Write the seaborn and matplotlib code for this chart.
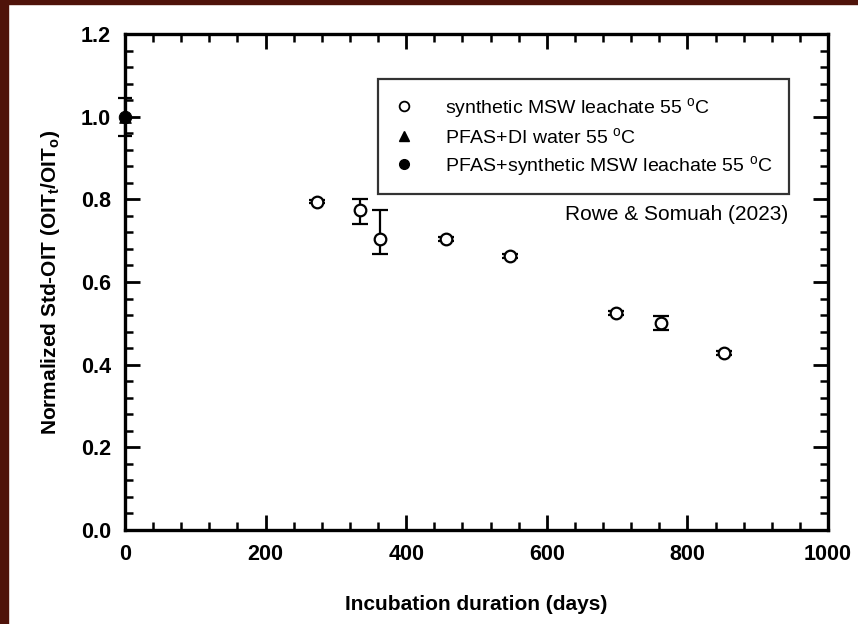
import matplotlib
matplotlib.use("Agg")
import matplotlib.pyplot as plt
from matplotlib.lines import Line2D
from matplotlib.patches import Rectangle
import seaborn as sns
import pandas as pd
import numpy as np

# ---- data ----
msw_days = [273, 334, 363, 456, 548, 698, 762, 852]
msw_oit = [0.794, 0.774, 0.705, 0.704, 0.663, 0.525, 0.501, 0.428]
msw_err_low = [0.004, 0.033, 0.038, 0.006, 0.004, 0.004, 0.016, 0.004]
msw_err_high = [0.004, 0.026, 0.069, 0.006, 0.004, 0.004, 0.016, 0.004]

di_days = [0]
di_oit = [1.0]

pfas_days = [0]
pfas_oit = [1.0]
pfas_err = [0.046]

labels = ["synthetic MSW leachate 55 $^\\mathregular{o}$C",
          "PFAS+DI water 55 $^\\mathregular{o}$C",
          "PFAS+synthetic MSW leachate 55 $^\\mathregular{o}$C"]

sns.set_theme(style="white")
plt.rcParams["font.family"] = ["Liberation Sans", "DejaVu Sans"]
plt.rcParams["mathtext.default"] = "regular"
for k in ["text.color", "axes.labelcolor", "xtick.color", "ytick.color"]:
    plt.rcParams[k] = "black"

W, H = 858, 624
fig = plt.figure(figsize=(W / 100, H / 100), dpi=100)
fig.patch.set_facecolor("white")
ax = fig.add_axes([125 / W, 1 - 530 / H, (828 - 125) / W, (530 - 34) / H])

# error bars
ax.errorbar(msw_days, msw_oit, yerr=[msw_err_low, msw_err_high], fmt="none",
            ecolor="black", elinewidth=1.6, capsize=6, capthick=1.6, zorder=2)
ax.errorbar(pfas_days, pfas_oit, yerr=pfas_err, fmt="none",
            ecolor="black", elinewidth=1.6, capsize=5, capthick=1.6, zorder=2,
            clip_on=False)

df_msw = pd.DataFrame({"days": msw_days, "oit": msw_oit})
df_di = pd.DataFrame({"days": di_days, "oit": di_oit})
df_pfas = pd.DataFrame({"days": pfas_days, "oit": pfas_oit})

sns.scatterplot(data=df_msw, x="days", y="oit", ax=ax, marker="o", s=70,
                facecolor="white", edgecolor="black", linewidth=1.6, zorder=3)
sns.scatterplot(data=df_di, x="days", y="oit", ax=ax, marker="^", s=70,
                color="black", edgecolor="black", zorder=3, clip_on=False)
sns.scatterplot(data=df_pfas, x="days", y="oit", ax=ax, marker="o", s=80,
                color="black", edgecolor="black", zorder=4, clip_on=False)

ax.set_xlim(0, 1000)
ax.set_ylim(0, 1.2)
ax.set_xticks([0, 200, 400, 600, 800, 1000])
ax.set_yticks([0.0, 0.2, 0.4, 0.6, 0.8, 1.0, 1.2])
ax.set_yticklabels(["0.0", "0.2", "0.4", "0.6", "0.8", "1.0", "1.2"])
ax.set_xticks(np.arange(0, 1001, 40), minor=True)
ax.set_yticks(np.arange(0, 1.2001, 0.04), minor=True)
ax.tick_params(which="both", direction="in", top=True, right=True,
               bottom=True, left=True, color="black")
ax.tick_params(which="major", length=11, width=2, labelsize=15.5, pad=10)
ax.tick_params(which="minor", length=5.5, width=1.8)
for lab in ax.get_xticklabels() + ax.get_yticklabels():
    lab.set_fontweight("bold")
for sp in ax.spines.values():
    sp.set_linewidth(2.4)
    sp.set_color("black")

ax.set_xlabel("Incubation duration (days)", fontsize=15, fontweight="bold",
              labelpad=22)
ax.set_ylabel("Normalized Std-OIT (OIT$_\\mathregular{t}$/OIT$_\\mathregular{o}$)",
              fontsize=15, fontweight="bold", labelpad=14)

handles = [
    Line2D([], [], marker="o", linestyle="none", markerfacecolor="white",
           markeredgecolor="black", markersize=7, markeredgewidth=1.3),
    Line2D([], [], marker="^", linestyle="none", color="black", markersize=7),
    Line2D([], [], marker="o", linestyle="none", color="black", markersize=7),
]
leg = ax.legend(handles, labels, loc="upper left", bbox_to_anchor=(0.36, 0.909),
                frameon=True, fancybox=False, edgecolor="black", fontsize=14,
                labelspacing=0.36, handlelength=1.0, handletextpad=1.6,
                borderpad=0.85, borderaxespad=0)
leg.get_frame().set_linewidth(1.6)
for t in leg.get_texts():
    t.set_color("black")

ax.text(0.943, 0.637, "Rowe & Somuah (2023)", transform=ax.transAxes,
        ha="right", va="center", fontsize=15, color="black")

# maroon frame strips of the reference image
fig.patches.append(Rectangle((0, 0), 8 / W, 1, transform=fig.transFigure,
                             color="#4f130a", zorder=10))
fig.patches.append(Rectangle((0, 1 - 4 / H), 1, 4 / H, transform=fig.transFigure,
                             color="#4f130a", zorder=10))

fig.savefig("out.png", dpi=100)
